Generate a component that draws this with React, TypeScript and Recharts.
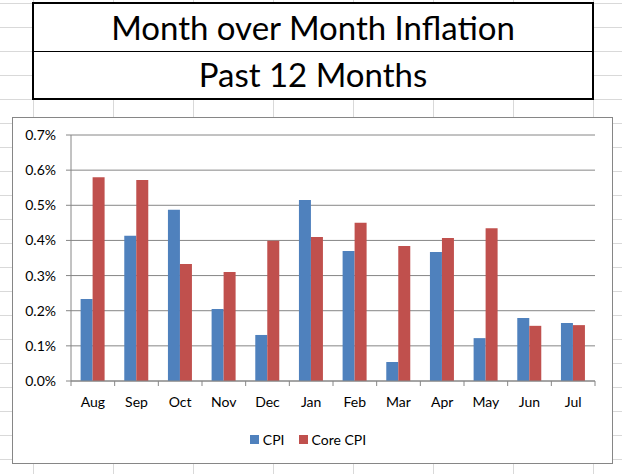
import { BarChart, Bar, XAxis, YAxis, CartesianGrid, Legend } from "recharts";

const months = ["Aug", "Sep", "Oct", "Nov", "Dec", "Jan", "Feb", "Mar", "Apr", "May", "Jun", "Jul"];
const cpi = [0.233, 0.413, 0.487, 0.205, 0.131, 0.515, 0.37, 0.054, 0.367, 0.122, 0.179, 0.165];
const coreCpi = [0.58, 0.572, 0.333, 0.31, 0.399, 0.41, 0.45, 0.384, 0.407, 0.435, 0.157, 0.159];
const yTicks = [0, 0.1, 0.2, 0.3, 0.4, 0.5, 0.6, 0.7];

const data = months.map((m, i) => ({ month: m, cpi: cpi[i], core: coreCpi[i] }));

const FONT = "Lato, 'Noto Sans', sans-serif";
const AXIS_GRAY = "#868686";

// month label plus the boundary tick marks Excel draws between categories
function MonthTick(props: any) {
    const { x, y, payload, index, visibleTicksCount } = props;
    const half = payload.offset || 0;
    const last = index === visibleTicksCount - 1;
    return (
        <g>
            <line x1={x - half} x2={x - half} y1={y} y2={y + 5} stroke={AXIS_GRAY} />
            {last && <line x1={x + half} x2={x + half} y1={y} y2={y + 5} stroke={AXIS_GRAY} />}
            <text x={x} y={y + 16} dy="0.71em" textAnchor="middle" fill="#000" fontSize={14} fontFamily={FONT}>
                {payload.value}
            </text>
        </g>
    );
}

function renderLegend(props: any) {
    return (
        <div style={{ display: "flex", justifyContent: "center", alignItems: "center", height: 45, fontFamily: FONT, fontSize: 14, color: "#000" }}>
            {props.payload.map((e: any) => (
                <span key={e.value} style={{ display: "inline-flex", alignItems: "center", marginRight: 14 }}>
                    <span style={{ display: "inline-block", width: 9, height: 9, background: e.color, marginRight: 4 }} />
                    {e.value}
                </span>
            ))}
        </div>
    );
}

export default function App() {
    return (
        <div
            style={{
                position: "absolute",
                left: 0,
                top: 0,
                width: 622,
                height: 474,
                overflow: "hidden",
                background: "#fff",
                backgroundImage:
                    "linear-gradient(to right, #d9d9d9 1px, transparent 1px), linear-gradient(to bottom, #d9d9d9 1px, transparent 1px)",
                backgroundSize: "80px 24px",
                backgroundPosition: "33px 3px",
            }}
        >
            <div
                style={{
                    position: "absolute",
                    left: 32,
                    top: 2,
                    width: 562,
                    height: 98,
                    border: "2px solid #000",
                    boxSizing: "border-box",
                    background: "#fff",
                    fontFamily: FONT,
                    fontSize: 33,
                    color: "#000",
                    textAlign: "center",
                }}
            >
                <div style={{ height: 47, lineHeight: "46px", borderBottom: "1px solid #000" }}>Month over Month Inflation</div>
                <div style={{ height: 46, lineHeight: "45px" }}>Past 12 Months</div>
            </div>

            <div
                style={{
                    position: "absolute",
                    left: 12,
                    top: 117,
                    width: 601,
                    height: 347,
                    border: `1px solid ${AXIS_GRAY}`,
                    boxSizing: "border-box",
                    background: "#fff",
                }}
            >
                <BarChart
                    width={598}
                    height={344}
                    data={data}
                    margin={{ top: 17, right: 16, bottom: 0, left: 22 }}
                    barCategoryGap="22%"
                    barGap={0}
                >
                    <CartesianGrid vertical={false} stroke={AXIS_GRAY} />
                    <XAxis
                        dataKey="month"
                        height={36}
                        tickSize={0}
                        tickMargin={0}
                        axisLine={{ stroke: AXIS_GRAY }}
                        tick={<MonthTick />}
                        interval={0}
                    />
                    <YAxis
                        width={36}
                        domain={[0, 0.7]}
                        ticks={yTicks}
                        tickFormatter={(v: number) => v.toFixed(1) + "%"}
                        tickSize={5}
                        tickMargin={10}
                        tickLine={{ stroke: AXIS_GRAY }}
                        axisLine={{ stroke: AXIS_GRAY }}
                        tick={{ fill: "#000", fontSize: 14, fontFamily: FONT }}
                    />
                    <Legend verticalAlign="bottom" height={45} content={renderLegend} />
                    <Bar dataKey="cpi" name="CPI" fill="#4F81BD" isAnimationActive={false} />
                    <Bar dataKey="core" name="Core CPI" fill="#C0504D" isAnimationActive={false} />
                </BarChart>
            </div>
        </div>
    );
}
